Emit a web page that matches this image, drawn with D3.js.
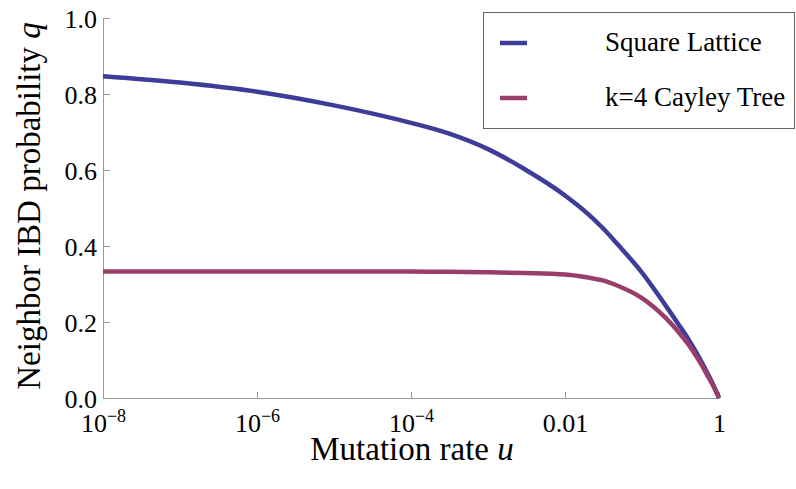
<!DOCTYPE html>
<html>
<head>
<meta charset="utf-8">
<script src="https://cdn.jsdelivr.net/npm/d3@7"></script>
<style>
  body { margin: 0; background: #fff; }
  svg { display: block; }
</style>
</head>
<body>
<svg id="chart"></svg>
<script>
// mutation rate u (x) and neighbour IBD probability q for the two graphs
const mutationRate = [1e-8, 1e-7, 1e-6, 1e-5, 1e-4, 3e-4, 1e-3, 3e-3, 1e-2, 2e-2, 3e-2, 5e-2,
                      0.1, 0.2, 0.3, 0.4, 0.5, 0.6, 0.7, 0.8, 0.9, 1];
const squareLattice = [0.847, 0.830, 0.806, 0.770, 0.724, 0.697, 0.655, 0.602, 0.533, 0.484, 0.45, 0.401,
                       0.33, 0.245, 0.193, 0.155, 0.122, 0.093, 0.067, 0.044, 0.022, 0];
const cayleyTree = [0.333, 0.333, 0.333, 0.333, 0.333, 0.332, 0.331, 0.329, 0.325, 0.317, 0.31, 0.294,
                    0.263, 0.212, 0.173, 0.141, 0.112, 0.086, 0.061, 0.04, 0.02, 0];
const seriesNames = ["Square Lattice", "k=4 Cayley Tree"];
const seriesColors = ["#3d3d99", "#993d6b"];

const xMajorTicks = [1e-8, 1e-6, 1e-4, 1e-2, 1];
const xTickLabels = [["10", "\u22128"], ["10", "\u22126"], ["10", "\u22124"], ["0.01", ""], ["1", ""]];
const yMajorTicks = [0, 0.2, 0.4, 0.6, 0.8, 1.0];

const width = 796, height = 489;
const margin = {left: 103, right: 77, top: 18, bottom: 91};
const fontName = "Liberation Serif";

const svg = d3.select("#chart").attr("width", width).attr("height", height)
    .attr("font-family", fontName);

const x = d3.scaleLog().domain([1e-8, 1]).range([margin.left, width - margin.right]);
const y = d3.scaleLinear().domain([0, 1]).range([height - margin.bottom, margin.top]);

// minor ticks: j*10^k on the odd decades
let xMinor = [];
[-7, -5, -3, -1].forEach(k => {
    for (let j = 1; j <= 9; j++) xMinor.push(j * Math.pow(10, k));
});
let yMinor = d3.range(0, 1.0001, 0.05).filter(v => Math.abs(v * 5 - Math.round(v * 5)) > 1e-6);

const axisColor = "#9a9a9a";

// x axis
const gx = svg.append("g").attr("transform", `translate(0,${y(0)})`);
gx.call(d3.axisBottom(x).tickValues(xMinor).tickSize(-3).tickFormat(""));
gx.call(d3.axisBottom(x).tickValues(xMajorTicks).tickSize(-6).tickFormat(() => ""));
gx.attr("font-family", fontName).attr("font-size", 26);
gx.selectAll("path, line").attr("stroke", axisColor);
gx.selectAll(".tick text").each(function(d, i) {
    const t = d3.select(this).attr("y", 34).attr("dy", 0).attr("fill", "#000");
    const lab = xTickLabels[i];
    t.append("tspan").text(lab[0]);
    if (lab[1]) t.append("tspan").attr("font-size", 18).attr("dy", -10).text(lab[1]);
});

// y axis
const gy = svg.append("g").attr("transform", `translate(${x(1e-8)},0)`);
gy.call(d3.axisLeft(y).tickValues(yMinor).tickSize(-4).tickFormat(""));
gy.call(d3.axisLeft(y).tickValues(yMajorTicks).tickSize(-7).tickPadding(6)
    .tickFormat(d3.format(".1f")));
gy.attr("font-family", fontName).attr("font-size", 26);
gy.selectAll("path, line").attr("stroke", axisColor);
gy.selectAll(".tick text").attr("fill", "#000").attr("dy", 9);

// curves
const line = d3.line()
    .x((d, i) => x(mutationRate[i]))
    .y(d => y(d))
    .curve(d3.curveMonotoneX);

[squareLattice, cayleyTree].forEach((s, k) => {
    svg.append("path")
        .attr("d", line(s))
        .attr("fill", "none")
        .attr("stroke", seriesColors[k])
        .attr("stroke-width", 4.5)
        .attr("stroke-linejoin", "round");
});

// axis titles
svg.append("text")
    .attr("x", 412).attr("y", 460)
    .attr("text-anchor", "middle").attr("font-size", 33)
    .html('Mutation rate <tspan font-style="italic">u</tspan>');

svg.append("text")
    .attr("transform", "translate(40,206) rotate(-90)")
    .attr("text-anchor", "middle").attr("font-size", 33)
    .html('Neighbor IBD probability <tspan font-style="italic">q</tspan>');

// legend
const legend = svg.append("g").attr("font-size", 27);
legend.append("rect")
    .attr("x", 483.5).attr("y", 12.5).attr("width", 311).attr("height", 116)
    .attr("fill", "#fff").attr("stroke", "#666").attr("stroke-width", 1);
seriesNames.forEach((name, k) => {
    const ly = 43 + k * 55;
    legend.append("line")
        .attr("x1", 500).attr("x2", 527).attr("y1", ly).attr("y2", ly)
        .attr("stroke", seriesColors[k]).attr("stroke-width", 4.5);
    legend.append("text")
        .attr("x", 605).attr("y", ly + 8)
        .text(name);
});
</script>
</body>
</html>
